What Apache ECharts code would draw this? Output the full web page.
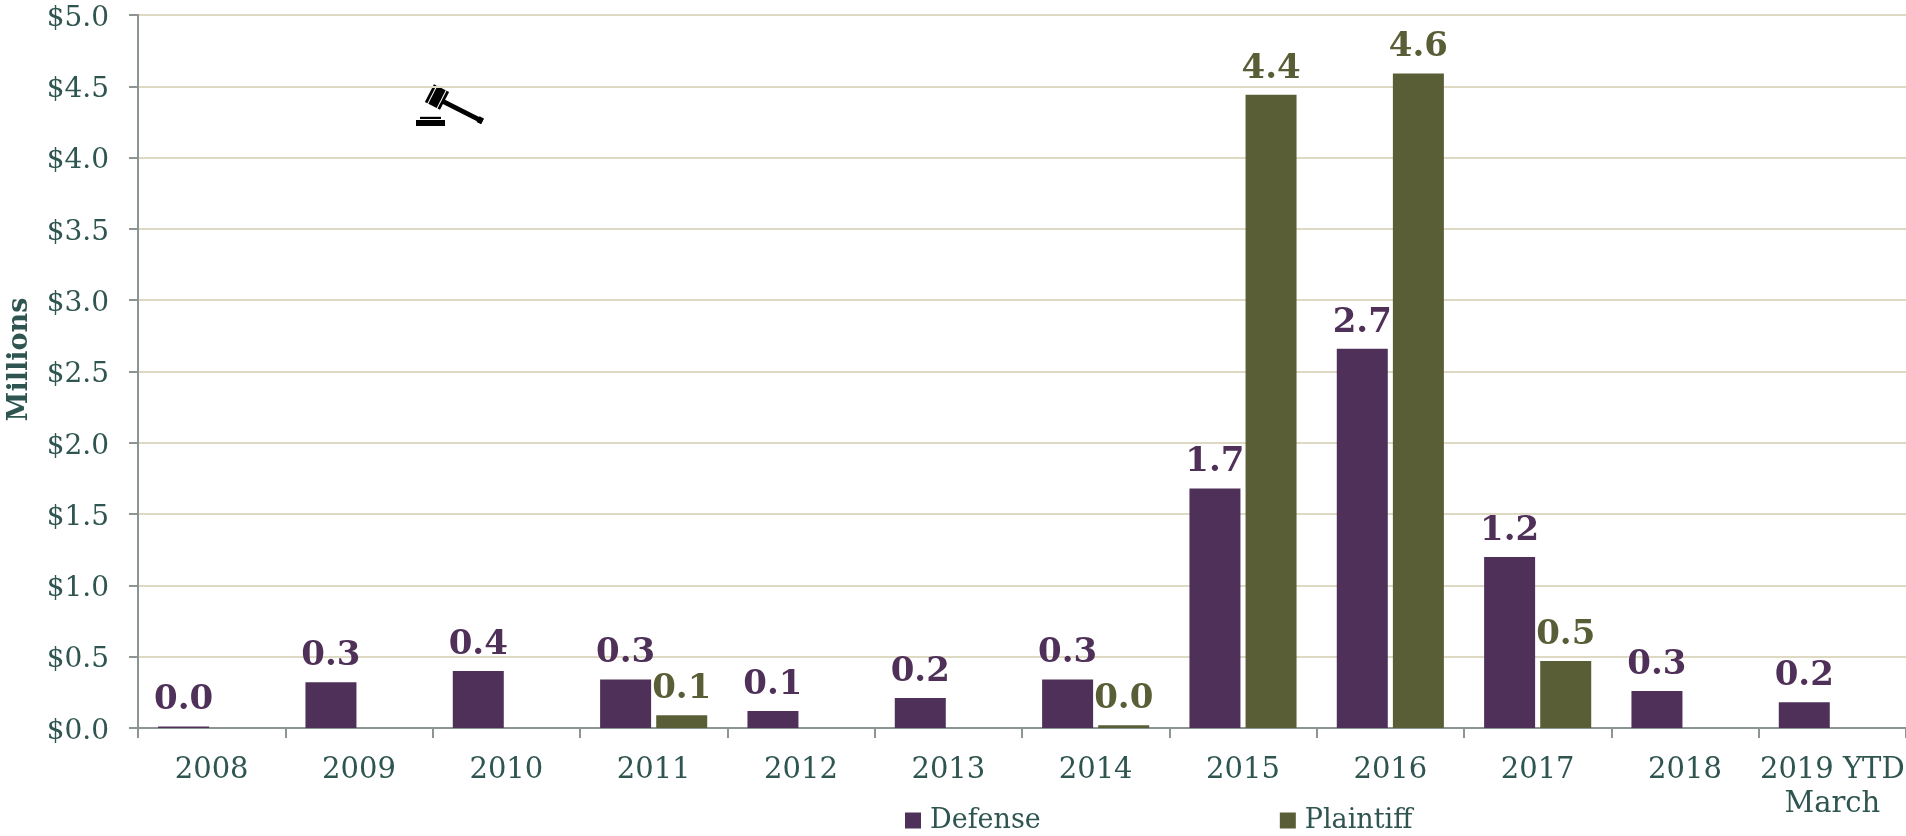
<!DOCTYPE html>
<html><head><meta charset="utf-8">
<style>html,body{margin:0;padding:0;background:#fff}#c{width:1906px;height:836px}</style>
<script src="https://cdn.jsdelivr.net/npm/echarts@6/dist/echarts.min.js"></script>
</head><body><div id="c"></div>
<script>
const categories=['2008','2009','2010','2011','2012','2013','2014','2015','2016','2017','2018','2019 YTD\nMarch'];
const defense=[0.01,0.32,0.40,0.34,0.12,0.21,0.34,1.68,2.66,1.20,0.26,0.18];
const plaintiff=[null,null,null,0.09,null,null,0.02,4.44,4.59,0.47,null,null];
const yTicks={min:0,max:5,interval:0.5};
const FONT='"DejaVu Serif"',TXT='#2F5550',PUR='#4F3058',OLV='#5A5E37';
const chart=echarts.init(document.getElementById('c'),null,{renderer:'canvas'});
const barLabel=c=>({show:true,position:'top',distance:9,color:c,fontFamily:FONT,fontWeight:'bold',fontSize:34,
  formatter:p=>p.value.toFixed(1)});
const bar=(name,data,c)=>({name,type:'bar',data,barWidth:51,barGap:'10%',
  itemStyle:{color:c},label:barLabel(c),animation:false});
function gavel(){
  const rot=-27*Math.PI/180;
  const r=(x,y,w,h,fill,cx,cy,ro)=>({type:'rect',silent:true,x:cx||0,y:cy||0,rotation:ro||0,
    shape:{x,y,width:w,height:h},style:{fill}});
  return [
   r(416,120,29,6,'#000'),
   r(420,116.8,21,2.2,'#000'),
   r(-23,-2.4,46,4.8,'#000',462,111,rot),
   r(18,-3.2,5,6.4,'#000',462,111,rot),
   r(-8.5,-10,17,20,'#000',437,97,rot),
   r(-5.7,-10.5,1,21,'#fff',437,97,rot),
   r(4.7,-10.5,1,21,'#fff',437,97,rot)
  ];
}
chart.setOption({
  animation:false,backgroundColor:'#fff',
  grid:{left:138,right:0,top:15,bottom:108,outerBoundsMode:'none'},
  legend:{left:900,top:802,itemWidth:16,itemHeight:16,itemGap:239,icon:'rect',
    textStyle:{color:TXT,fontFamily:FONT,fontSize:27,padding:[0,0,0,4]},data:['Defense','Plaintiff']},
  xAxis:{type:'category',data:categories,
    axisLine:{lineStyle:{color:'#8C9594',width:2}},
    axisTick:{show:true,length:10,lineStyle:{color:'#8C9594',width:2},alignWithLabel:false},
    axisLabel:{color:TXT,fontFamily:FONT,fontSize:29,lineHeight:34,margin:25,interval:0}},
  yAxis:{type:'value',...yTicks,name:'Millions',nameLocation:'middle',nameGap:105,
    nameTextStyle:{color:TXT,fontFamily:FONT,fontWeight:'bold',fontSize:27,padding:[0,0,0,24]},
    axisLine:{show:true,lineStyle:{color:'#8C9594',width:2}},
    axisTick:{show:true,length:9,lineStyle:{color:'#8C9594',width:2}},
    axisLabel:{color:TXT,fontFamily:FONT,fontSize:28,margin:29,formatter:v=>'{a|$'+v.toFixed(1)+'}',
      rich:{a:{color:TXT,fontFamily:FONT,fontSize:28,padding:[7,0,0,0]}}},
    splitLine:{lineStyle:{color:'#DDD9C3',width:2}}},
  series:[bar('Defense',defense,PUR),bar('Plaintiff',plaintiff,OLV)],
  graphic:gavel()
});
</script></body></html>
